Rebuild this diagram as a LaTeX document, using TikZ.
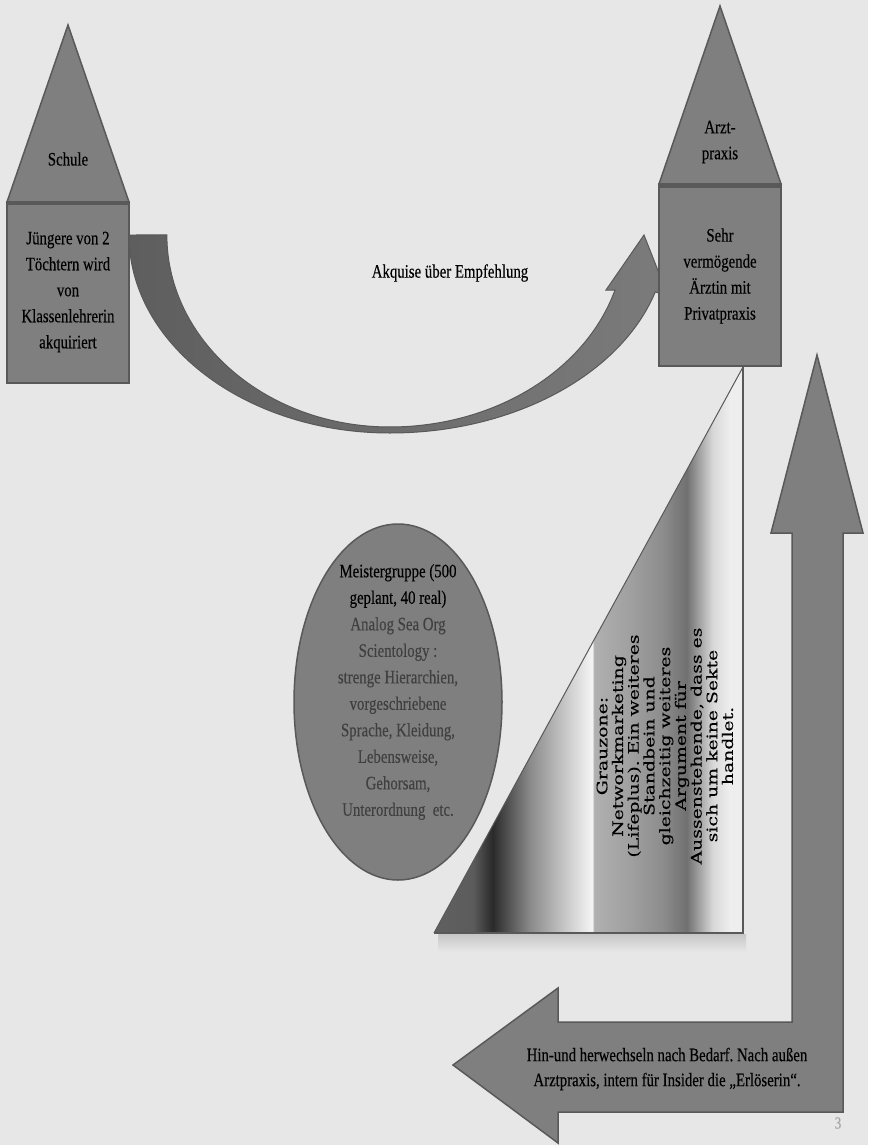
\documentclass[tikz,border=0pt]{standalone}
\usepackage{fontspec}
\setmainfont[FakeStretch=0.78, FakeBold=0.3]{Liberation Serif}
\newfontfamily\zonefont[FakeBold=0.2]{DejaVu Serif}
\usepackage{graphicx}
\usetikzlibrary{calc}
\frenchspacing
\definecolor{bgpage}{HTML}{E7E7E7}
\definecolor{boxfill}{HTML}{7F7F7F}
\definecolor{boxline}{HTML}{595959}
\definecolor{arcdark}{HTML}{5E5E5E}
\definecolor{arclight}{HTML}{7B7B7B}
\definecolor{softtext}{HTML}{404040}
\definecolor{pagegray}{HTML}{A6A6A6}
\pgfdeclarehorizontalshading{grauzone}{100bp}{gray(0bp)=(0.376); gray(25bp)=(0.376); gray(31.3bp)=(0.36); gray(34.5bp)=(0.165); gray(40.5bp)=(0.54); gray(47bp)=(0.816); gray(50.6bp)=(0.96); gray(50.9bp)=(0.69); gray(56.7bp)=(0.627); gray(62.1bp)=(0.55); gray(65.9bp)=(0.44); gray(70.1bp)=(0.847); gray(72.9bp)=(0.933); gray(100bp)=(0.933)}
\tikzset{
	houseline/.style={draw=boxline, line width=1.5pt, fill=boxfill, line join=miter},
	bandline/.style={draw=boxline, line width=4pt},
	label/.style={font=\fontsize{19}{26}\selectfont, inner sep=0pt, align=center}
}

\begin{document}
\begin{tikzpicture}[x=1pt, y=-1pt]
				\fill[bgpage] (0,0) rectangle (868,1145);
				\useasboundingbox (0,0) rectangle (868,1145);
				
				\draw[draw=boxline, line width=1pt, left color=arcdark, right color=arclight] (129,235) arc[start angle=180, end angle=90, x radius=261, y radius=198] arc[start angle=90, end angle=16.7, x radius=277, y radius=198] -- (668,296) -- (644,235) -- (606,290) -- (615,290) arc[start angle=16.65, end angle=90, x radius=235, y radius=192] arc[start angle=90, end angle=180, x radius=223, y radius=192] -- cycle;
				
				\draw[houseline] (7,202) -- (68,25) -- (129,202) -- cycle;
				\draw[houseline] (7,202) rectangle (129,383);
				\draw[bandline] (7,203) -- (129,203);
				
				\draw[houseline] (659,184) -- (720,6) -- (781,184) -- cycle;
				\draw[houseline] (659,184) rectangle (781,366);
				\draw[bandline] (659,186) -- (781,186);
				
				\shade[top color=black!14!bgpage, bottom color=bgpage] (438,934) rectangle (746,952);
				\shade[shading=grauzone] (434,933) -- (743,367) -- (743,933) -- cycle;
				\draw[boxline, line width=1pt] (434,933) -- (743,367);
				\draw[boxline, line width=2pt] (743,366) -- (743,933) -- (434,933);
				
				\draw[houseline] (398,702) ellipse[x radius=104, y radius=178];
				
				\draw[houseline] (558,988) -- (558,1022) -- (792,1022) -- (792,533) -- (771,533) -- (817,355) -- (863,533) -- (843,533) -- (843,1112) -- (558,1112) -- (558,1143) -- (453,1065) -- cycle;
				
				\node[label] (schuledach) at (68,159) {Schule};
				\node[label] (schule) at (68,292) {Jüngere von 2\\Töchtern wird\\von\\Klassenlehrerin\\akquiriert};
				\node[label] (arztdach) at (720,142) {Arzt-\\praxis};
				\node[label] (arzt) at (720,276) {Sehr\\vermögende\\Ärztin mit\\Privatpraxis};
				\node[label] (akquise) at (450,273) {Akquise über Empfehlung};
				\node[label, font=\fontsize{19}{26.5}\selectfont] (meister) at (398,692) {Meistergruppe (500\\geplant, 40 real)\\\textcolor{softtext}{Analog Sea Org}\\\textcolor{softtext}{Scientology :}\\\textcolor{softtext}{strenge Hierarchien,}\\\textcolor{softtext}{vorgeschriebene}\\\textcolor{softtext}{Sprache, Kleidung,}\\\textcolor{softtext}{Lebensweise,}\\\textcolor{softtext}{Gehorsam,}\\\textcolor{softtext}{Unterordnung\ \ etc.}};
				\node[inner sep=0pt, rotate=90] (grauzonetext) at (667,746) {\scalebox{1.3}[1]{\zonefont\fontsize{14.5}{15.6}\selectfont\begin{tabular}{@{}c@{}}Grauzone:\\Networkmarketing\\(Lifeplus). Ein weiteres\\Standbein und\\gleichzeitig weiteres\\Argument für\\Aussenstehende, dass es\\sich um keine Sekte\\handlet.\end{tabular}}};
				\node[label, font=\fontsize{19}{25}\selectfont] (wechsel) at (667,1069) {Hin-und herwechseln nach Bedarf. Nach außen\\Arztpraxis, intern für Insider die „Erlöserin“.};
				\node[label, text=pagegray, font=\fontsize{17}{20}\selectfont] (seite) at (838,1123) {3};
			\end{tikzpicture}
\end{document}
